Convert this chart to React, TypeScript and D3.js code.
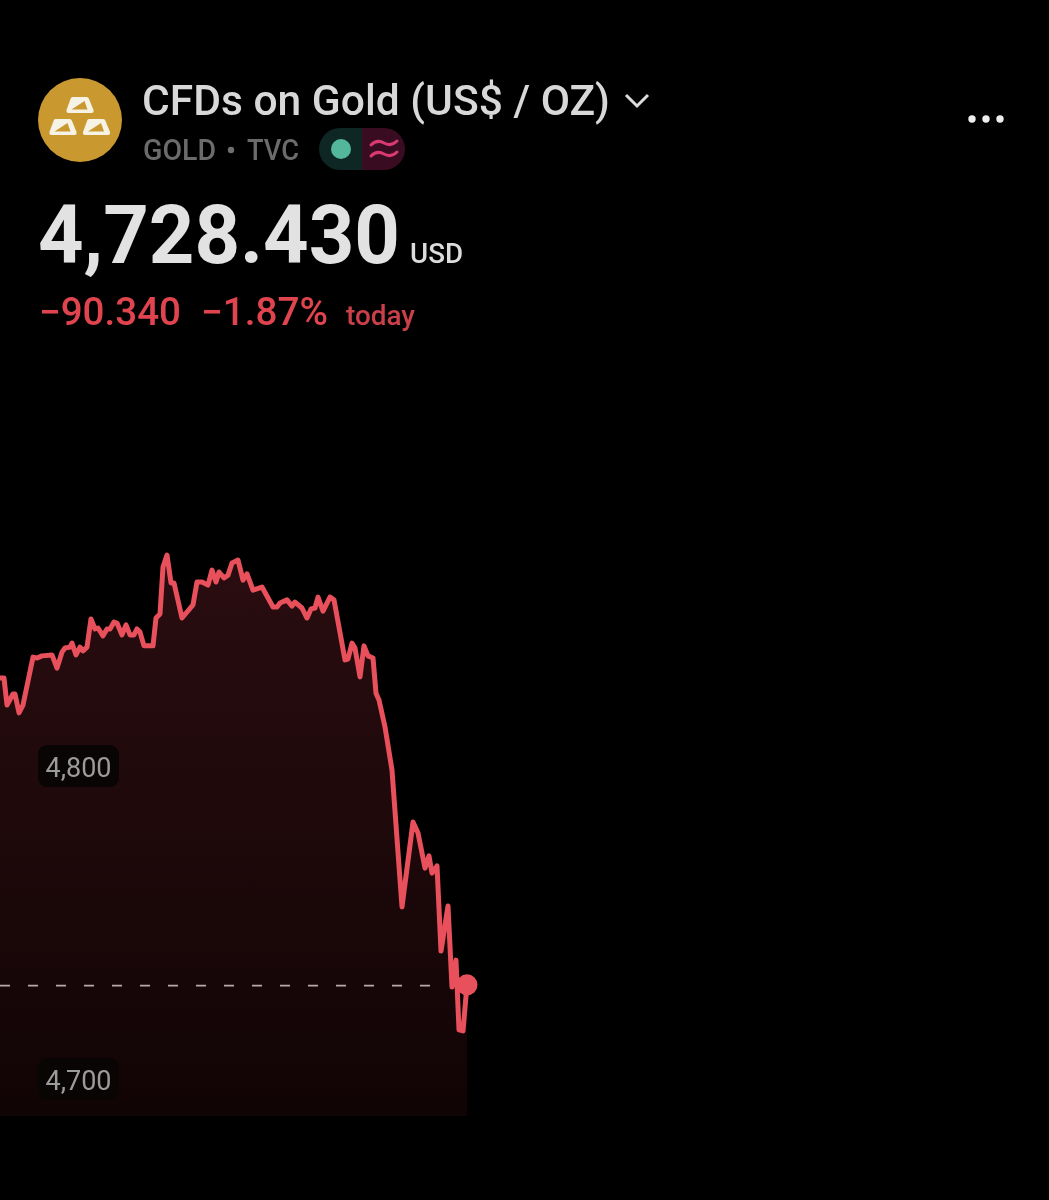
import React from "react";
import * as d3 from "d3";

const minutes = [0,8,14,26,30,38,46,66,74,84,104,114,124,130,140,144,152,160,166,174,182,190,196,206,214,220,228,234,244,252,260,268,274,280,288,306,312,320,326,334,342,348,364,386,394,404,416,424,432,438,448,456,464,476,486,494,506,524,546,554,560,574,584,590,604,614,622,630,636,646,660,668,690,696,704,710,720,728,736,746,752,758,770,784,804,826,836,850,858,864,874,882,896,904,912,918,926,934];
const prices = [4828.4,4828.4,4819.8,4823.3,4823.3,4817.3,4819.8,4835.1,4834.8,4835.5,4835.8,4831.6,4836.7,4838.0,4838.3,4839.6,4835.8,4838.3,4837.1,4838.3,4847.3,4844.1,4844.4,4841.9,4844.1,4844.1,4846.3,4846.0,4842.2,4845.4,4842.2,4842.2,4844.1,4843.1,4838.7,4838.7,4847.6,4848.9,4863.9,4867.7,4858.8,4858.8,4847.6,4851.8,4859.1,4859.1,4858.1,4862.9,4859.1,4862.3,4860.4,4861.3,4865.2,4866.1,4859.7,4861.7,4856.5,4857.5,4851.1,4851.1,4852.4,4853.4,4851.4,4852.7,4850.8,4847.6,4850.5,4850.8,4854.3,4849.8,4854.3,4853.4,4834.2,4834.5,4839.6,4838.0,4828.8,4838.7,4835.5,4834.8,4823.6,4821.4,4812.8,4799.0,4755.3,4782.4,4778.9,4767.7,4771.6,4766.1,4768.4,4741.2,4755.6,4729.7,4738.3,4716.0,4715.7,4730.4];
const tickValues = [4800, 4700];
const referencePrice = 4730;
const fmt = d3.format(",");

const x = d3.scaleLinear().domain([0, 934]).range([0, 467]);
const y = d3.scaleLinear().domain([4700, 4800]).range([1080, 767]);
const baseY = 1116;

const pts: [number, number][] = minutes.map((t, i) => [x(t), y(prices[i])]);
const linePath = d3.line().curve(d3.curveLinear)(pts) as string;
const areaPath = d3.area().x(d => d[0]).y0(baseY).y1(d => d[1])(pts) as string;
const lastPoint = pts[pts.length - 1];

const font = "Roboto, sans-serif";

function Bar({ dx, dy }: { dx: number; dy: number }) {
  return (
    <g transform={`translate(${dx},${dy})`}>
      <path d="M6 1 H20 Q22 1 22.5 3 L27 14 Q27.5 17 25 17 H2 Q-0.5 17 0 14 L4 3 Q4.5 1 6 1 Z" fill="#f7f2e6" />
      <path d="M5 13.5 L18 5 L21 13.5 Z" fill="#c9992f" />
    </g>
  );
}

export default function App() {
  return (
    <svg width={1049} height={1200} style={{ position: "absolute", left: 0, top: 0, display: "block", background: "#000" }} fontFamily={font}>
      <defs>
        <linearGradient id="fillGrad" x1="0" y1="555" x2="0" y2="1116" gradientUnits="userSpaceOnUse">
          <stop offset="0" stopColor="#2a0d10" />
          <stop offset="1" stopColor="#110405" />
        </linearGradient>
        <filter id="soft" x="-5%" y="-5%" width="110%" height="110%" colorInterpolationFilters="sRGB">
          <feGaussianBlur stdDeviation="0.55" />
        </filter>
      </defs>
      <rect width={1049} height={1200} fill="#000" />

      <path d={areaPath} fill="url(#fillGrad)" />

      <g filter="url(#soft)">
        <circle cx={80} cy={120} r={42} fill="#c9992f" />
        <Bar dx={66.5} dy={96} />
        <Bar dx={49.5} dy={118} />
        <Bar dx={83} dy={118} />

        <text x={142} y={115} fontSize={42} fontWeight={500} fill="#d8d8d8" textLength={468} lengthAdjust="spacingAndGlyphs">CFDs on Gold (US$ / OZ)</text>
        <path d="M626 95 L637 106 L648 95" fill="none" stroke="#dcdcdc" strokeWidth={3} />
        <circle cx={972} cy={119} r={3.7} fill="#eee" />
        <circle cx={986} cy={119} r={3.7} fill="#eee" />
        <circle cx={1000} cy={119} r={3.7} fill="#eee" />

        <text x={143} y={160} fontSize={29} fontWeight={500} fill="#6b6b6b" textLength={73} lengthAdjust="spacingAndGlyphs">GOLD</text>
        <circle cx={231} cy={150} r={3.2} fill="#6f6f6f" />
        <text x={247} y={160} fontSize={29} fontWeight={500} fill="#6b6b6b" textLength={52} lengthAdjust="spacingAndGlyphs">TVC</text>

        <path d="M362 128 H340 A21 21 0 0 0 340 170 H362 Z" fill="#0e2724" />
        <path d="M362 128 H384 A21 21 0 0 1 384 170 H362 Z" fill="#3a0c22" />
        <circle cx={341} cy={149} r={10} fill="#53b79c" />
        <path d="M371 145 Q377 139 384 143 T397 141 M371 156 Q377 150 384 154 T397 152" fill="none" stroke="#d93a70" strokeWidth={3} strokeLinecap="round" />

        <text x={38} y={263} fontSize={82} fontWeight={700} fill="#e2e2e2" textLength={362} lengthAdjust="spacingAndGlyphs">4,728.430</text>
        <text x={410} y={263} fontSize={28} fontWeight={500} fill="#dcdcdc" textLength={53} lengthAdjust="spacingAndGlyphs">USD</text>

        <text x={39} y={325} fontSize={38} fontWeight={500} fill="#e0444f" textLength={142} lengthAdjust="spacingAndGlyphs">−90.340</text>
        <text x={201} y={325} fontSize={38} fontWeight={500} fill="#e0444f" textLength={127} lengthAdjust="spacingAndGlyphs">−1.87%</text>
        <text x={346} y={325} fontSize={27} fontWeight={500} fill="#c9404a" textLength={69} lengthAdjust="spacingAndGlyphs">today</text>

        <line x1={0} x2={440} y1={y(referencePrice) - 0.5} y2={y(referencePrice) - 0.5} stroke="#b9aaaa" strokeWidth={1.8} strokeDasharray="10 18" />
        <path d={linePath} fill="none" stroke="#e8505b" strokeWidth={5} strokeLinejoin="round" strokeLinecap="round" />
        <circle cx={lastPoint[0]} cy={lastPoint[1]} r={10.5} fill="#e8505b" />

        {tickValues.map(v => (
          <g key={v}>
            <rect x={38} y={y(v) - 22} width={81} height={42} rx={9} fill="#0a0505" />
            <text x={78.5} y={y(v) + 9.5} fontSize={27} textAnchor="middle" fill="#9b9b9b">{fmt(v)}</text>
          </g>
        ))}
      </g>
    </svg>
  );
}
